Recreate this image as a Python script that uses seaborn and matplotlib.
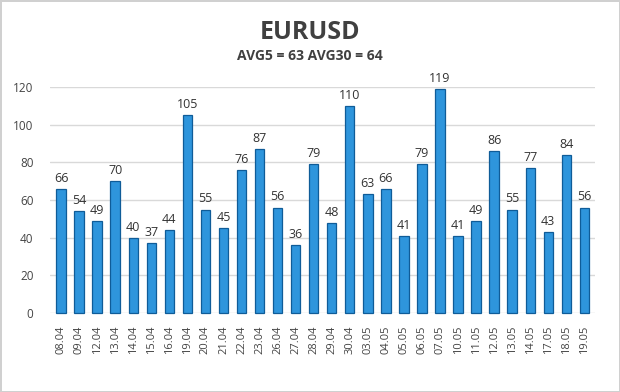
import matplotlib
matplotlib.use('Agg')
import matplotlib.pyplot as plt
import seaborn as sb
import pandas as pd

dates = ['08.04', '09.04', '12.04', '13.04', '14.04', '15.04', '16.04', '19.04', '20.04', '21.04',
         '22.04', '23.04', '26.04', '27.04', '28.04', '29.04', '30.04', '03.05', '04.05', '05.05',
         '06.05', '07.05', '10.05', '11.05', '12.05', '13.05', '14.05', '17.05', '18.05', '19.05']
volatility = [66, 54, 49, 70, 40, 37, 44, 105, 55, 45,
              76, 87, 56, 36, 79, 48, 110, 63, 66, 41,
              79, 119, 41, 49, 86, 55, 77, 43, 84, 56]
y_ticks = [0, 20, 40, 60, 80, 100, 120]
title = 'EURUSD'
subtitle = 'AVG5 = 63 AVG30 = 64'

data = pd.DataFrame({'date': dates, 'value': volatility})

sb.set_style('white')
plt.rcParams['font.family'] = ['Open Sans', 'DejaVu Sans']

fig = plt.figure(figsize=(6.2, 3.92), dpi=100, linewidth=2, edgecolor='#d0d0d0')
ax = fig.add_axes([0.081, 0.2015, 0.879, 0.576])

sb.barplot(data=data, x='date', y='value', ax=ax, color='#2e95dc', width=0.52,
           edgecolor='#0f5c98', linewidth=0.9, saturation=1)

ax.bar_label(ax.containers[0], fontsize=9, color='#333333', padding=3)

ax.set_ylim(0, 120)
ax.set_yticks(y_ticks)
ax.set_xlim(-0.6, len(dates) - 0.4)
ax.yaxis.grid(True, color='#d9d9d9', linewidth=1)
ax.set_axisbelow(True)
for s in ax.spines.values():
    s.set_visible(False)
ax.set_xlabel('')
ax.set_ylabel('')
ax.tick_params(axis='y', labelsize=8.5, colors='#444444', length=0, pad=12)
ax.tick_params(axis='x', labelsize=8, colors='#444444', length=0, pad=9, rotation=90)
for c in ax.containers[0]:
    c.set_clip_on(False)
for t in ax.texts:
    t.set_clip_on(False)

fig.text(0.5, 0.918, title, ha='center', va='center', fontsize=18, fontweight='bold', color='#404040')
fig.text(0.5, 0.858, subtitle, ha='center', va='center', fontsize=10, fontweight='bold', color='#404040')

fig.savefig('out.png', dpi=100)
